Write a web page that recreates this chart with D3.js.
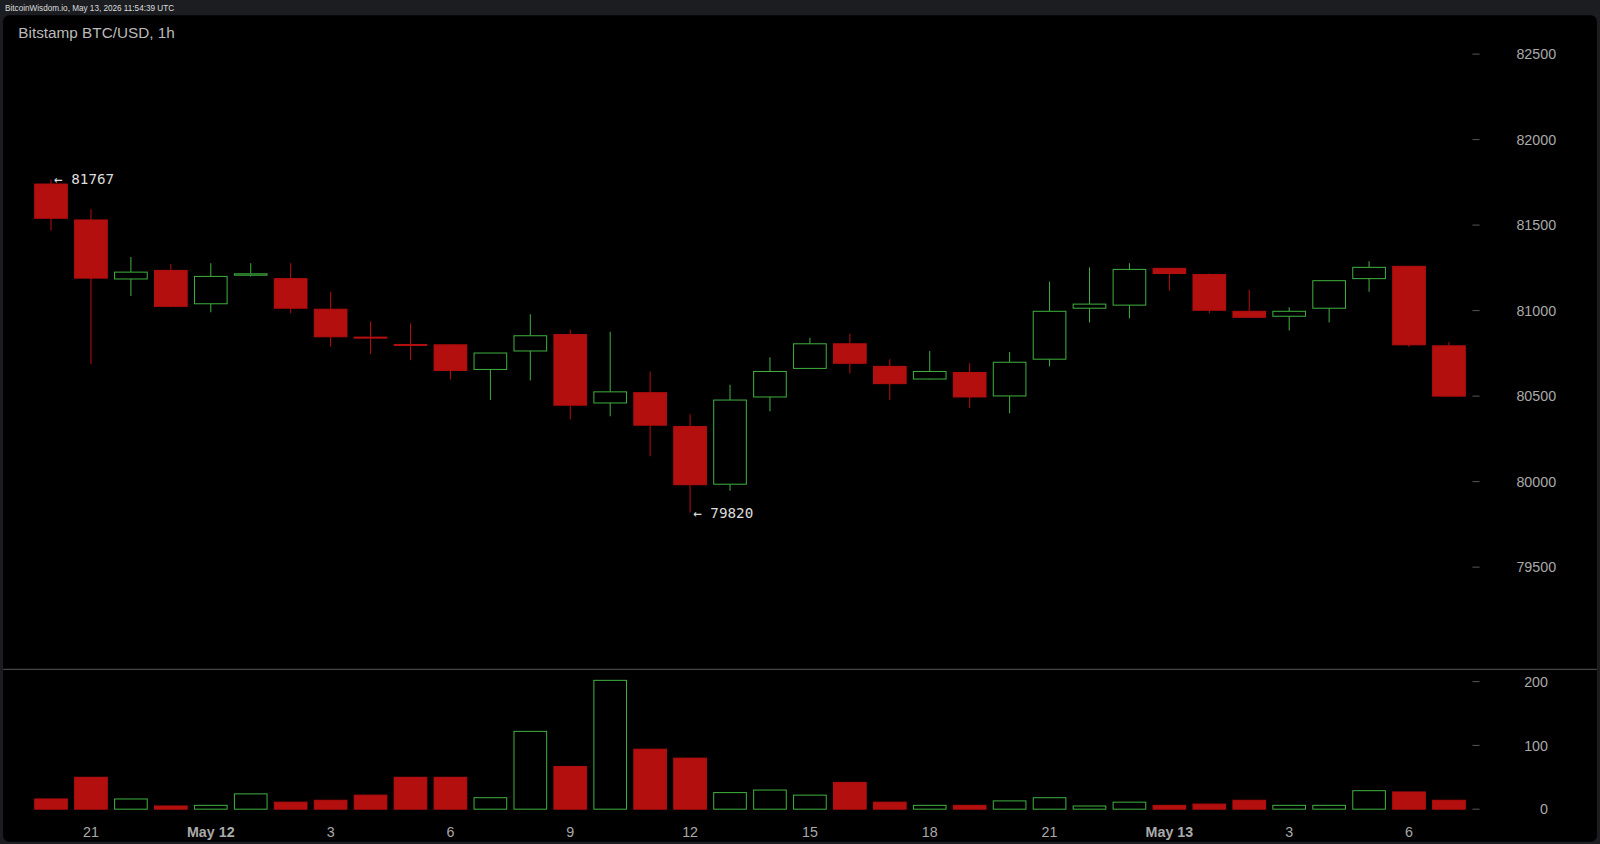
<!DOCTYPE html>
<html><head><meta charset="utf-8">
<script src="https://cdn.jsdelivr.net/npm/d3@7"></script>
<style>
body{margin:0;background:#1b1d21;overflow:hidden}
svg{display:block;font-family:"Liberation Sans",Arial,sans-serif}
</style></head><body>
<svg id="c" width="1600" height="844"></svg>
<script>
// hourly candles, May 11 20:00 .. May 13 07:00
const opens  = [81740,81530,81185,81235,81040,81207,81187,81008,80845,80802,80800,80656,80764,80860,80460,80520,80322,79985,80495,80662,80806,80674,80600,80638,80501,80716,81014,81032,81247,81211,80996,80967,81014,81187,81259,80794];
const closes = [81540,81190,81225,81025,81200,81215,81014,80847,80840,80798,80650,80752,80853,80447,80525,80330,79982,80477,80644,80806,80692,80573,80644,80495,80698,80996,81038,81241,81217,81002,80961,80996,81175,81253,80800,80500];
const highs  = [81767,81593,81313,81271,81277,81277,81277,81110,80937,80925,80805,80752,80978,80889,80877,80644,80394,80567,80728,80841,80865,80716,80764,80692,80758,81169,81253,81277,81247,81217,81122,81020,81175,81289,81259,80817];
const lows   = [81468,80686,81086,81020,80990,81200,80984,80788,80746,80710,80597,80477,80591,80364,80382,80149,79820,79946,80412,80662,80632,80477,80597,80430,80400,80674,80931,80955,81116,80984,80961,80883,80931,81110,80788,80500];
const volumes= [16,50,16,5,6,24,11,14,22,50,50,18,122,67,202,94,80,26,30,22,42,11,6,6,13,18,5,11,6,8,14,6,6,29,27,14];
const hourLabels = {1:"21",4:"May 12",7:"3",10:"6",13:"9",16:"12",19:"15",22:"18",25:"21",28:"May 13",31:"3",34:"6"};
const priceTicks = [79500,80000,80500,81000,81500,82000,82500];
const volTicks = [0,100,200];

const root = d3.select("#c");
root.append("rect").attr("width",1600).attr("height",844).attr("fill","#1b1d21");
const svg = root.append("g").attr("transform","scale(1.0204)");
svg.append("text").attr("x",5).attr("y",11).attr("fill","#ddd").attr("font-size",8).text("BitcoinWisdom.io, May 13, 2026 11:54:39 UTC");
svg.append("rect").attr("x",3).attr("y",15).attr("width",1562).attr("height",810).attr("rx",6).attr("fill","#000");

const x = d3.scaleLinear().domain([0,35]).range([50,1420]);
const y = d3.scaleLinear().domain([80000,82500]).range([472,53]);
const yv = d3.scaleLinear().domain([0,200]).range([793,668]);
const bw = 32;
const red = "#b30f0f", green = "#3fae3f";
const idx = d3.range(opens.length);

svg.append("text").attr("x",18).attr("y",37).attr("fill","#bbb").attr("font-size",15).text("Bitstamp BTC/USD, 1h");

// separator
svg.append("line").attr("x1",3).attr("x2",1565).attr("y1",656).attr("y2",656).attr("stroke","#444");

// right axes
const ax = svg.append("g").attr("fill","#aaa").attr("font-size",14);
priceTicks.forEach(t=>{
  ax.append("line").attr("x1",1443).attr("x2",1450).attr("y1",y(t)).attr("y2",y(t)).attr("stroke","#555");
  ax.append("text").attr("x",1525).attr("y",y(t)+5).attr("text-anchor","end").text(t);
});
volTicks.forEach(t=>{
  ax.append("line").attr("x1",1443).attr("x2",1450).attr("y1",yv(t)).attr("y2",yv(t)).attr("stroke","#555");
  ax.append("text").attr("x",1517).attr("y",yv(t)+5).attr("text-anchor","end").text(t);
});
Object.entries(hourLabels).forEach(([i,l])=>{
  ax.append("text").attr("x",x(+i)).attr("y",820).attr("text-anchor","middle")
    .attr("font-weight",l.startsWith("May")?"bold":"normal").text(l);
});

// candles
const g = svg.append("g");
idx.forEach(i=>{
  const up = closes[i] >= opens[i];
  const c = up ? green : red;
  const top = y(Math.max(opens[i],closes[i])), bot = y(Math.min(opens[i],closes[i]));
  const cx = x(i);
  g.append("line").attr("x1",cx).attr("x2",cx).attr("y1",y(highs[i])).attr("y2",top).attr("stroke",c);
  g.append("line").attr("x1",cx).attr("x2",cx).attr("y1",bot).attr("y2",y(lows[i])).attr("stroke",c);
  g.append("rect").attr("x",cx-bw/2).attr("y",top).attr("width",bw).attr("height",Math.max(1,bot-top))
    .attr("fill",up?"#000":red).attr("stroke",c);
  g.append("rect").attr("x",cx-bw/2).attr("y",yv(volumes[i])).attr("width",bw).attr("height",yv(0)-yv(volumes[i]))
    .attr("fill",up?"#000":red).attr("stroke",c);
});

// extremes
const lbl = svg.append("g").attr("fill","#ddd").attr("font-size",14).attr("font-family","DejaVu Sans Mono, monospace");
lbl.append("text").attr("x",x(0)+3).attr("y",y(81767)+4).text("← 81767");
lbl.append("text").attr("x",x(16)+3).attr("y",y(79820)+5).text("← 79820");
</script>
</body></html>
